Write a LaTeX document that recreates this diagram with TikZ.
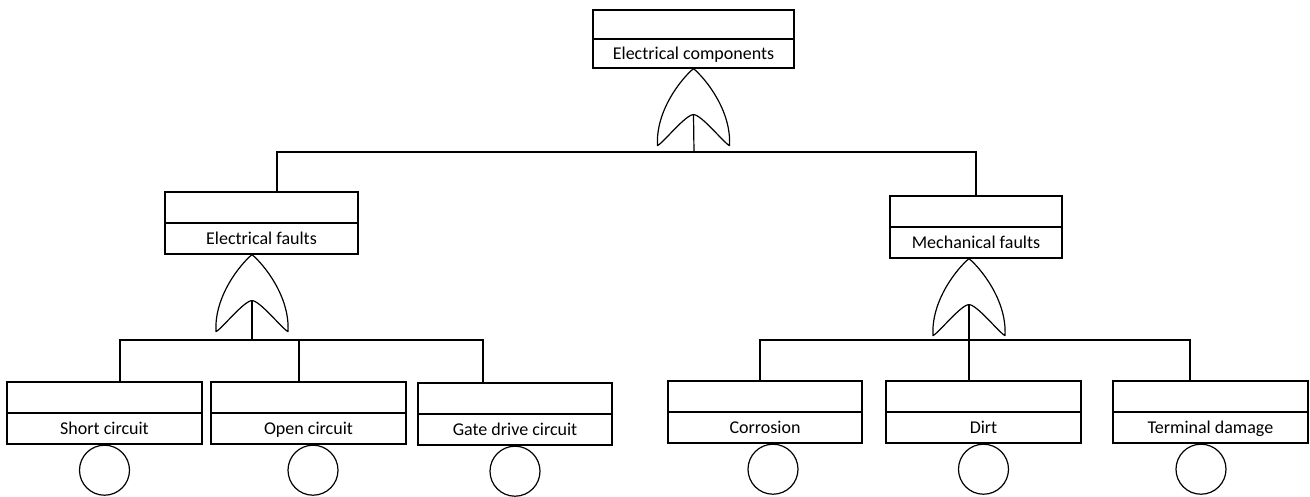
\documentclass[tikz,border=0pt]{standalone}
\usepackage{fontspec}
\setmainfont{Carlito}
\usetikzlibrary{positioning}
\tikzset{
  event/.style  = {draw=black, line width=1.2pt, align=center, inner xsep=0pt,
                   inner ysep=0pt, font=\fontsize{18}{31}\selectfont,
                   path picture={\draw[line width=1.2pt] (path picture bounding box.west)
                     -- (path picture bounding box.east);}},
  basic/.style  = {draw=black, line width=1.2pt, circle, minimum size=50pt, inner sep=0pt},
  conn/.style   = {draw=black, line width=1.2pt},
  orgate/.pic   = {
    \draw[line width=1.2pt, line join=round]
      (0,0) .. controls (-12,10) and (-38,42) .. (-36,77)
      .. controls (-30,74) and (-8,46) .. (0,46)
      .. controls (8,46) and (30,74) .. (36,77)
      .. controls (38,42) and (12,10) .. cycle;
    \coordinate (-out) at (0,46);
  },
}
\newcommand{\evtext}[1]{\strut\\\strut #1}
\begin{document}
\begin{tikzpicture}[x=1pt, y=-1pt]
  \useasboundingbox (0,0) rectangle (1310,496);
  % top event
  \node[event, minimum width=201pt, font=\fontsize{18}{29}\selectfont] (ec) at (693.5,39) {\evtext{Electrical components}};
  \pic (g1) at (ec.south) {orgate};
  % intermediate events
  \node[event, minimum width=193pt] (ef) at (261.5,223) {\evtext{Electrical faults}};
  \node[event, minimum width=172pt] (mf) at (976,227) {\evtext{Mechanical faults}};
  \pic (g2) at ([xshift=-9.5pt]ef.south) {orgate};
  \pic (g3) at ([xshift=-7pt]mf.south) {orgate};
  % basic events
  \node[event, minimum width=195pt] (sc) at (104.5,413) {\evtext{Short circuit}};
  \node[event, minimum width=195pt] (oc) at (308.5,413) {\evtext{Open circuit}};
  \node[event, minimum width=194pt] (gd) at (515,414) {\evtext{Gate drive circuit}};
  \node[event, minimum width=194pt] (co) at (765,412) {\evtext{Corrosion}};
  \node[event, minimum width=195pt] (di) at (983.5,412) {\evtext{Dirt}};
  \node[event, minimum width=195pt] (td) at (1210.5,412) {\evtext{Terminal damage}};
  \node[basic, below=0pt of sc] (sc-b) {};
  \node[basic, below=0pt of oc, xshift=4.5pt] (oc-b) {};
  \node[basic, below=0pt of gd] (gd-b) {};
  \node[basic, below=0pt of co, xshift=8pt] (co-b) {};
  \node[basic, below=0pt of di] (di-b) {};
  \node[basic, below=0pt of td, xshift=-9.5pt] (td-b) {};
  % buses
  \coordinate (bus1) at (694,152);
  \coordinate (bus2) at (252,340);
  \coordinate (bus3) at (969,340);
  \draw[conn] (g1-out) -- (bus1);
  \draw[conn] ([xshift=15.5pt]ef.north) |- (bus1) -| (mf.north);
  \draw[conn] (g2-out) -- (bus2);
  \draw[conn] ([xshift=15.5pt]sc.north) |- (bus2) -| ([xshift=-32pt]gd.north);
  \draw[conn] ([xshift=-9.5pt]oc.north) -- ([xshift=-9.5pt]oc.north |- bus2);
  \draw[conn] (g3-out) -- ([xshift=-14.5pt]di.north);
  \draw[conn] ([xshift=-5pt]co.north) |- (bus3) -| ([xshift=-20.5pt]td.north);
\end{tikzpicture}
\end{document}
